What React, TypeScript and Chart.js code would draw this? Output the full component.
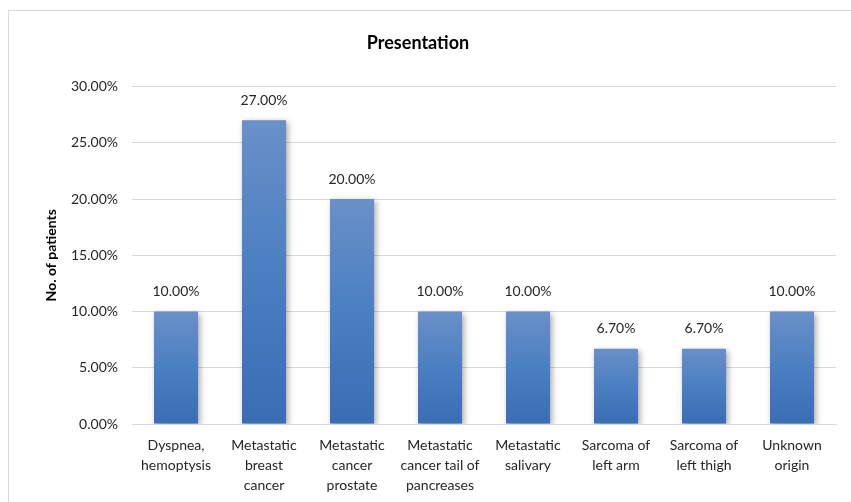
import React, { useEffect, useRef } from "react";
import { Chart, registerables } from "chart.js";

Chart.register(...registerables);

const categories: string[][] = [
  ["Dyspnea,", "hemoptysis"],
  ["Metastatic", "breast", "cancer"],
  ["Metastatic", "cancer", "prostate"],
  ["Metastatic", "cancer tail of", "pancreases"],
  ["Metastatic", "salivary"],
  ["Sarcoma of", "left arm"],
  ["Sarcoma of", "left thigh"],
  ["Unknown", "origin"],
];
const percentages: number[] = [10, 27, 20, 10, 10, 6.7, 6.7, 10];
const chartTitle = "Presentation";
const yAxisTitle = "No. of patients";

const FONT = "Lato, 'Open Sans', sans-serif";
const TEXT = "#262626";
const GRID = "#d9d9d9";

// White background plus the light frame around the chart
const framePlugin = {
  id: "frame",
  beforeDraw(chart: any) {
    const { ctx, width, height } = chart;
    ctx.save();
    ctx.fillStyle = "#ffffff";
    ctx.fillRect(0, 0, width, height);
    ctx.strokeStyle = GRID;
    ctx.lineWidth = 1;
    ctx.strokeRect(8.5, 10.5, width + 20, height + 20);
    ctx.restore();
  },
};

// Soft drop shadow behind the bars
const shadowPlugin = {
  id: "barShadow",
  beforeDatasetsDraw(chart: any) {
    const ctx = chart.ctx;
    ctx.save();
    ctx.shadowColor = "rgba(0,0,0,0.35)";
    ctx.shadowBlur = 6;
    ctx.shadowOffsetX = 2;
    ctx.shadowOffsetY = 2;
  },
  afterDatasetsDraw(chart: any) {
    chart.ctx.restore();
  },
};

// Value labels above every bar
const valueLabelPlugin = {
  id: "valueLabels",
  afterDatasetsDraw(chart: any) {
    const ctx = chart.ctx;
    const meta = chart.getDatasetMeta(0);
    const data = chart.data.datasets[0].data as number[];
    ctx.save();
    ctx.font = `14px ${FONT}`;
    ctx.fillStyle = TEXT;
    ctx.textAlign = "center";
    ctx.textBaseline = "middle";
    meta.data.forEach((bar: any, i: number) => {
      ctx.fillText(`${data[i].toFixed(2)}%`, bar.x, bar.y - 20);
    });
    ctx.restore();
  },
};

export default function App() {
  const canvasRef = useRef<HTMLCanvasElement | null>(null);

  useEffect(() => {
    if (!canvasRef.current) return;
    const chart = new Chart(canvasRef.current, {
      type: "bar",
      data: {
        labels: categories,
        datasets: [
          {
            data: percentages,
            backgroundColor: (context: any) => {
              const c = context.chart;
              const yScale = c.scales.y;
              if (!yScale || context.parsed == null) return "#4f7fc0";
              const top = yScale.getPixelForValue(context.parsed.y);
              const bottom = yScale.getPixelForValue(0);
              if (!isFinite(top) || !isFinite(bottom) || top === bottom) return "#4f7fc0";
              const g = c.ctx.createLinearGradient(0, top, 0, bottom);
              g.addColorStop(0, "#6a90c8");
              g.addColorStop(0.5, "#4a7fc2");
              g.addColorStop(1, "#3a6db4");
              return g;
            },
            borderWidth: 0,
            barPercentage: 0.5,
            categoryPercentage: 1,
          },
        ],
      },
      options: {
        responsive: false,
        animation: false,
        layout: { padding: { left: 0, right: 15, top: 0, bottom: 0 } },
        plugins: {
          legend: { display: false },
          tooltip: { enabled: false },
          title: {
            display: true,
            text: chartTitle,
            color: "#000000",
            font: { family: FONT, size: 18, weight: "bold" },
            padding: { top: 32, bottom: 33 },
          },
        },
        scales: {
          x: {
            grid: { display: false, drawTicks: false },
            border: { display: true, color: GRID },
            ticks: {
              color: TEXT,
              font: { family: FONT, size: 14, lineHeight: 1.4 },
              padding: 12,
              maxRotation: 0,
              autoSkip: false,
            },
            afterFit: (scale: any) => {
              scale.height = 78;
            },
          },
          y: {
            min: 0,
            max: 30,
            grid: { color: GRID, drawTicks: false },
            border: { display: false },
            ticks: {
              stepSize: 5,
              color: TEXT,
              font: { family: FONT, size: 14 },
              padding: 14,
              callback: (v: any) => `${Number(v).toFixed(2)}%`,
            },
            title: {
              display: true,
              text: yAxisTitle,
              color: "#000000",
              font: { family: FONT, size: 14, weight: "bold" },
              padding: { top: 43, bottom: 0 },
            },
            afterFit: (scale: any) => {
              scale.width = 132;
            },
          },
        },
      },
      plugins: [framePlugin, shadowPlugin, valueLabelPlugin],
    });
    return () => chart.destroy();
  }, []);

  return (
    <div style={{ position: "absolute", left: 0, top: 0, width: 851, height: 502 }}>
      <canvas ref={canvasRef} width={851} height={502} />
    </div>
  );
}
